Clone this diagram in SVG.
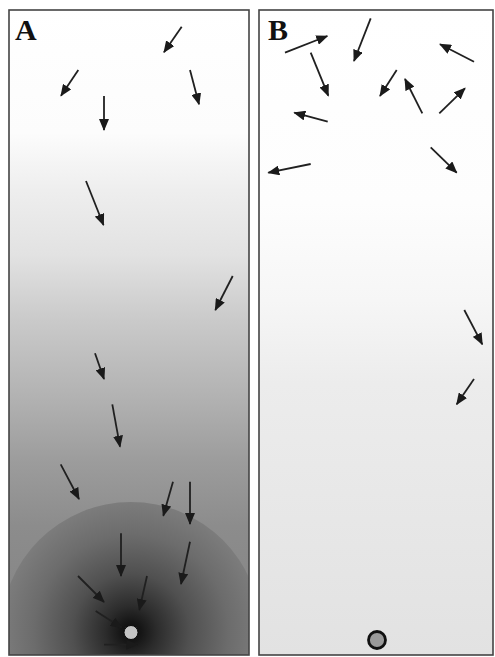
<svg xmlns="http://www.w3.org/2000/svg" width="495" height="657" viewBox="0 0 495 657">
<style>
.arr{stroke:#202020;stroke-width:1.8;fill:none;marker-end:url(#ah)}
.lbl{font-family:"Liberation Serif","Times New Roman",serif;font-weight:bold;font-size:30px;fill:#111}
.frame{fill:none;stroke:#444444;stroke-width:1.6}
</style>
<defs>
<marker id="ah" markerUnits="userSpaceOnUse" markerWidth="12" markerHeight="10" refX="11" refY="5" orient="auto">
<path d="M0,0 L12,5 L0,10 z" fill="#1a1a1a"/>
</marker>
<linearGradient id="gA" x1="0" y1="10" x2="0" y2="655" gradientUnits="userSpaceOnUse">
<stop offset="0" stop-color="#ffffff"/>
<stop offset="0.19" stop-color="#fcfcfc"/>
<stop offset="0.28" stop-color="#eeeeee"/>
<stop offset="0.38" stop-color="#e2e2e2"/>
<stop offset="0.48" stop-color="#cacaca"/>
<stop offset="0.6" stop-color="#b2b2b2"/>
<stop offset="0.7" stop-color="#9c9c9c"/>
<stop offset="0.8" stop-color="#8c8c8c"/>
<stop offset="1" stop-color="#828282"/>
</linearGradient>
<radialGradient id="rA" cx="131" cy="632" r="130" gradientUnits="userSpaceOnUse">
<stop offset="0" stop-color="#0c0c0c"/>
<stop offset="0.08" stop-color="#161616"/>
<stop offset="0.2" stop-color="#2c2c2c"/>
<stop offset="0.45" stop-color="#505050"/>
<stop offset="0.75" stop-color="#6c6c6c"/>
<stop offset="1" stop-color="#7c7c7c"/>
</radialGradient>
<linearGradient id="gB" x1="0" y1="10" x2="0" y2="655" gradientUnits="userSpaceOnUse">
<stop offset="0" stop-color="#ffffff"/>
<stop offset="0.3" stop-color="#fdfdfd"/>
<stop offset="0.45" stop-color="#f6f6f6"/>
<stop offset="0.58" stop-color="#ececec"/>
<stop offset="1" stop-color="#e2e2e2"/>
</linearGradient>
<clipPath id="cA"><rect x="9" y="10" width="240" height="645"/></clipPath>
</defs>
<rect width="495" height="657" fill="#ffffff"/>
<g id="panelA">
<rect x="9" y="10" width="240" height="645" fill="url(#gA)"/>
<circle cx="131" cy="632" r="130" fill="url(#rA)" clip-path="url(#cA)"/>
<rect class="frame" x="9" y="10" width="240" height="645"/>
<text class="lbl" x="15" y="40">A</text>
<circle id="targetA" cx="131" cy="632.5" r="7" fill="#c4c4c4" stroke="#0a0a0a" stroke-width="1"/>
</g>
<g id="panelB">
<rect x="259" y="10" width="234" height="645" fill="url(#gB)"/>
<rect class="frame" x="259" y="10" width="234" height="645"/>
<text class="lbl" x="268" y="40">B</text>
<circle id="targetB" cx="377" cy="640" r="8.5" fill="#9a9a9a" stroke="#111111" stroke-width="2.8"/>
</g>
<g id="connectors">
<line class="arr" x1="181.7" y1="26.7" x2="164" y2="52.3"/>
<line class="arr" x1="78.3" y1="70" x2="61" y2="95.7"/>
<line class="arr" x1="104" y1="96" x2="104" y2="130"/>
<line class="arr" x1="190" y1="70" x2="199" y2="104.3"/>
<line class="arr" x1="86" y1="181" x2="103.5" y2="225"/>
<line class="arr" x1="232.7" y1="276" x2="215.3" y2="310"/>
<line class="arr" x1="95" y1="353.3" x2="104" y2="379"/>
<line class="arr" x1="112.3" y1="404.3" x2="120" y2="446.7"/>
<line class="arr" x1="60.7" y1="464.3" x2="79" y2="499"/>
<line class="arr" x1="173" y1="481.7" x2="163.3" y2="515.7"/>
<line class="arr" x1="190" y1="481.7" x2="190" y2="524"/>
<line class="arr" x1="121" y1="533.3" x2="121" y2="576"/>
<line class="arr" x1="190" y1="541.7" x2="181" y2="584"/>
<line class="arr" x1="78" y1="576" x2="104" y2="602"/>
<line class="arr" x1="147" y1="576" x2="139.3" y2="610"/>
<line class="arr" x1="95.7" y1="611" x2="121.7" y2="627.7"/>
<line class="arr" x1="104" y1="644.7" x2="137.3" y2="644.7"/>
<line class="arr" x1="285" y1="52.7" x2="327.3" y2="36"/>
<line class="arr" x1="370.7" y1="18.3" x2="354" y2="61"/>
<line class="arr" x1="310.7" y1="52.7" x2="328.3" y2="95.7"/>
<line class="arr" x1="396.7" y1="70" x2="380" y2="96"/>
<line class="arr" x1="422.3" y1="113.3" x2="405" y2="79"/>
<line class="arr" x1="439.3" y1="113.3" x2="465" y2="88.3"/>
<line class="arr" x1="474" y1="61.7" x2="440" y2="44.3"/>
<line class="arr" x1="327.7" y1="121.7" x2="294.3" y2="112.7"/>
<line class="arr" x1="310.7" y1="164" x2="268.3" y2="172.7"/>
<line class="arr" x1="430.7" y1="147.3" x2="456.7" y2="172.7"/>
<line class="arr" x1="464.3" y1="310" x2="482.3" y2="344.3"/>
<line class="arr" x1="474" y1="379" x2="456.7" y2="404.3"/>
</g>
</svg>
